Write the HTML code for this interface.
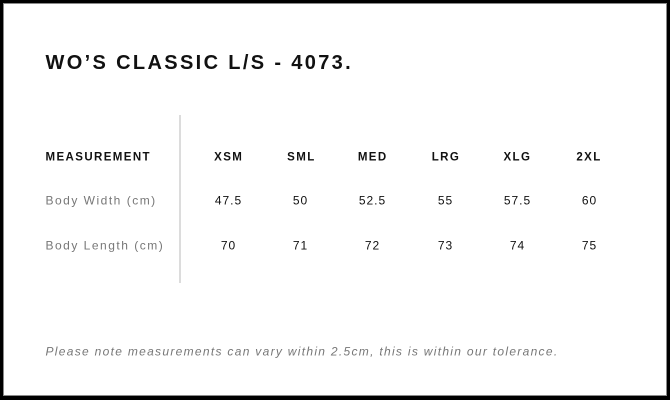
<!DOCTYPE html>
<html>
<head>
<meta charset="utf-8">
<style>
  html, body { margin: 0; padding: 0; background: #fff; }
  body { width: 670px; height: 400px; overflow: hidden; }
  svg { display: block; }
</style>
</head>
<body>
<svg width="670" height="400" viewBox="0 0 670 400" xmlns="http://www.w3.org/2000/svg">
  <rect x="0" y="0" width="670" height="400" fill="#000"/>
  <rect x="3" y="3" width="664" height="393" fill="#8a8a8a"/>
  <rect x="4" y="4" width="662" height="391" fill="#fff"/>

  <text x="45.5" y="69" font-family="'Liberation Sans', Arial, sans-serif" font-weight="bold" font-size="20" letter-spacing="2.35" fill="#111">WO’S CLASSIC L/S - 4073.</text>

  <rect x="179" y="115" width="2" height="168" fill="#dcdcdc"/>

  <g font-family="'Liberation Sans', Arial, sans-serif" font-weight="bold" font-size="11.5" letter-spacing="1.4" fill="#111">
    <text x="45.5" y="160.5">MEASUREMENT</text>
    <g text-anchor="middle">
      <text x="228.7" y="160.5">XSM</text>
      <text x="301.4" y="160.5">SML</text>
      <text x="372.7" y="160.5">MED</text>
      <text x="446" y="160.5">LRG</text>
      <text x="517.4" y="160.5">XLG</text>
      <text x="589" y="160.5">2XL</text>
    </g>
  </g>

  <g font-family="'Liberation Sans', Arial, sans-serif" font-size="12" letter-spacing="1.5" fill="#777">
    <text x="45.5" y="204.3">Body Width (cm)</text>
    <text x="45.5" y="249.3">Body Length (cm)</text>
  </g>

  <g font-family="'Liberation Sans', Arial, sans-serif" font-size="12" letter-spacing="1" fill="#111" text-anchor="middle">
    <text x="228.5" y="204.3">47.5</text>
    <text x="300.5" y="204.3">50</text>
    <text x="372.5" y="204.3">52.5</text>
    <text x="445.5" y="204.3">55</text>
    <text x="517.5" y="204.3">57.5</text>
    <text x="589.5" y="204.3">60</text>
    <text x="228.5" y="249.3">70</text>
    <text x="300.5" y="249.3">71</text>
    <text x="372.5" y="249.3">72</text>
    <text x="445.5" y="249.3">73</text>
    <text x="517.5" y="249.3">74</text>
    <text x="589.5" y="249.3">75</text>
  </g>

  <text x="45.5" y="355.5" font-family="'Liberation Sans', Arial, sans-serif" font-style="italic" font-size="12" letter-spacing="1.3" fill="#777">Please note measurements can vary within 2.5cm, this is within our tolerance.</text>
</svg>
</body>
</html>
